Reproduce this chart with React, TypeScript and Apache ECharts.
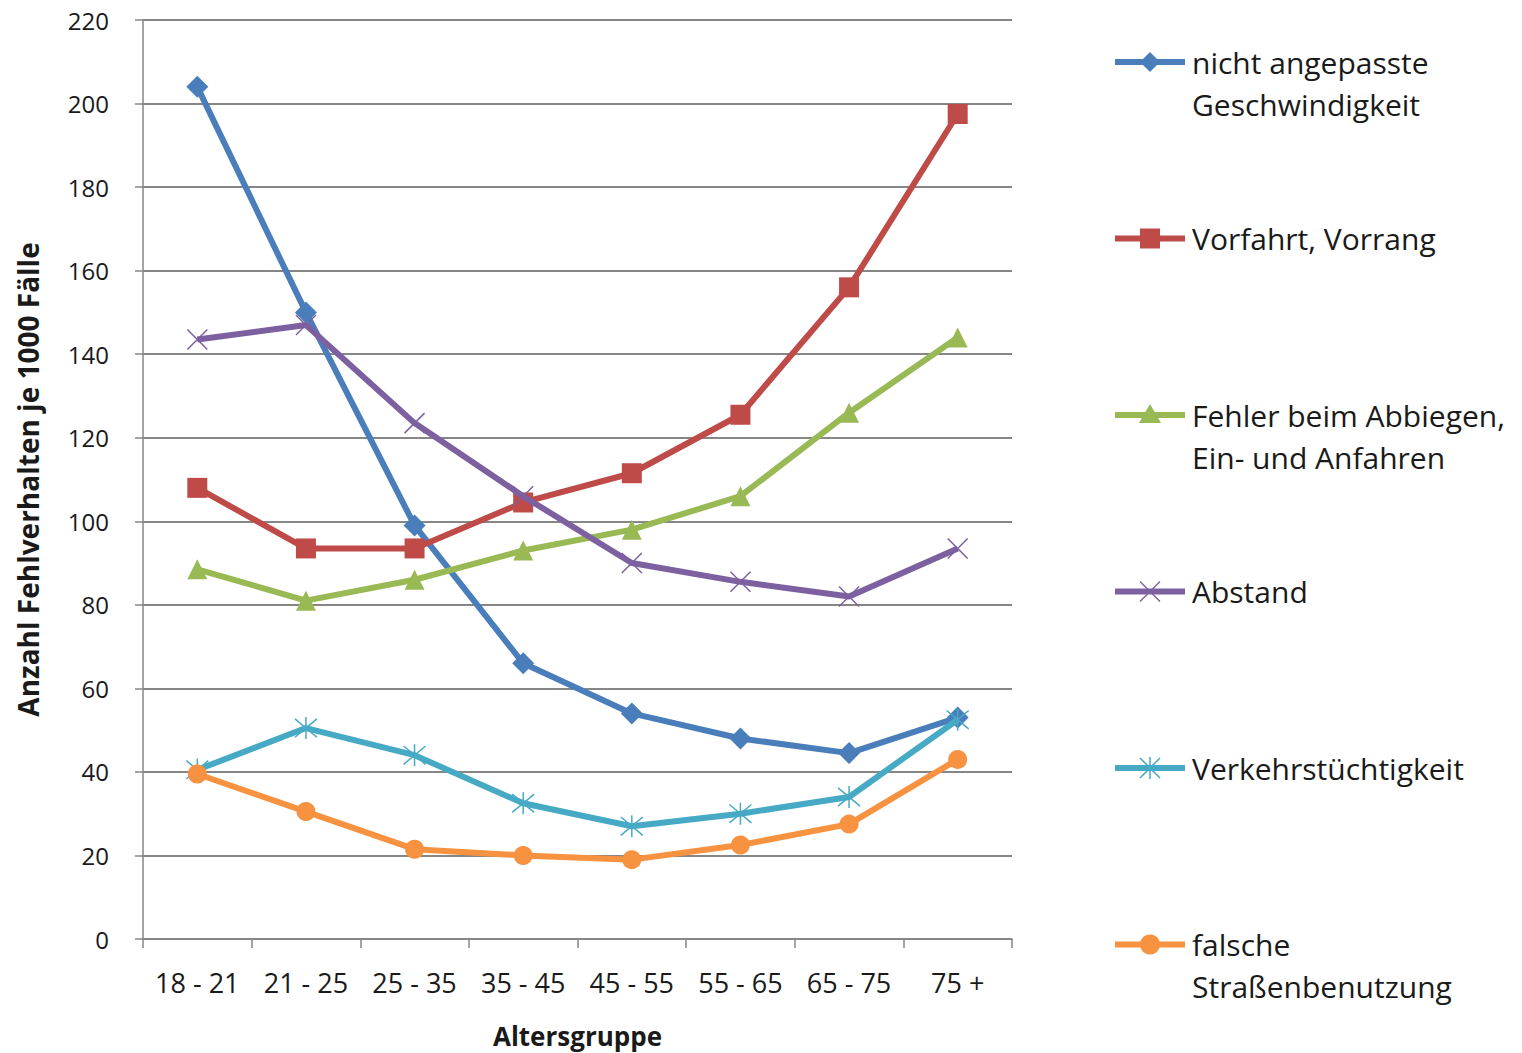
import React, { useEffect, useRef } from "react";
import * as echarts from "echarts";

// Altersgruppen und Fehlverhalten je 1000 Fälle
const categories = ["18 - 21", "21 - 25", "25 - 35", "35 - 45", "45 - 55", "55 - 65", "65 - 75", "75 +"];

const seriesNames = [
  "nicht angepasste\nGeschwindigkeit",
  "Vorfahrt, Vorrang",
  "Fehler beim Abbiegen,\nEin- und Anfahren",
  "Abstand",
  "Verkehrstüchtigkeit",
  "falsche\nStraßenbenutzung",
];

const geschwindigkeit = [204, 150, 99, 66, 54, 48, 44.5, 53];
const vorfahrt = [108, 93.5, 93.5, 104.5, 111.5, 125.5, 156, 197.5];
const abbiegen = [88.5, 81, 86, 93, 98, 106, 126, 144];
const abstand = [143.5, 147, 123.5, 106, 90, 85.5, 82, 93.5];
const verkehrstuechtigkeit = [40.5, 50.5, 44, 32.5, 27, 30, 34, 52.5];
const strassenbenutzung = [39.5, 30.5, 21.5, 20, 19, 22.5, 27.5, 43];

const yTicks = { min: 0, max: 220, interval: 20 };

const colors = ["#4A7EBB", "#BE4B48", "#98B954", "#7D60A0", "#46AAC5", "#F69240"];

const X_PATH = "path://M0,0L10,10M10,0L0,10";
const STAR_PATH = "path://M0,0L10,10M10,0L0,10M5,-1L5,11";

const FONT = "'Open Sans', 'Noto Sans', sans-serif";

export default function App() {
  const ref = useRef<HTMLDivElement>(null);

  useEffect(() => {
    if (!ref.current) return;
    const chart = echarts.init(ref.current, undefined, { renderer: "svg" });

    const values = [geschwindigkeit, vorfahrt, abbiegen, abstand, verkehrstuechtigkeit, strassenbenutzung];
    const symbols: any[] = ["diamond", "rect", "triangle", X_PATH, STAR_PATH, "circle"];
    const symbolSizes = [22, 20, 20, 20, 22, 19];

    const series = values.map((data, i) => {
      const stroked = i === 3 || i === 4;
      return {
        name: seriesNames[i],
        type: "line",
        data,
        symbol: symbols[i],
        symbolSize: symbolSizes[i],
        showSymbol: true,
        lineStyle: { color: colors[i], width: 6 },
        itemStyle: stroked
          ? { color: "rgba(0,0,0,0)", borderColor: colors[i], borderWidth: 1.5 }
          : { color: colors[i], borderWidth: 0 },
        z: 2 + i,
      };
    });

    // Legende rechts neben dem Diagramm
    const legendTop = 62;
    const legendStep = 176.5;
    const lx0 = 1115;
    const lx1 = 1185;
    const mx = 1150;
    const graphics: any[] = [];
    seriesNames.forEach((name, i) => {
      const y = legendTop + i * legendStep;
      const c = colors[i];
      graphics.push({
        type: "line",
        shape: { x1: lx0, y1: y, x2: lx1, y2: y },
        style: { stroke: c, lineWidth: 6 },
      });
      if (i === 0) {
        graphics.push({
          type: "polygon",
          shape: { points: [[mx, y - 10], [mx + 10, y], [mx, y + 10], [mx - 10, y]] },
          style: { fill: c },
        });
      } else if (i === 1) {
        graphics.push({ type: "rect", shape: { x: mx - 10, y: y - 10, width: 20, height: 20 }, style: { fill: c } });
      } else if (i === 2) {
        graphics.push({
          type: "polygon",
          shape: { points: [[mx, y - 11], [mx + 11, y + 8], [mx - 11, y + 8]] },
          style: { fill: c },
        });
      } else if (i === 3 || i === 4) {
        graphics.push({ type: "line", shape: { x1: mx - 10, y1: y - 10, x2: mx + 10, y2: y + 10 }, style: { stroke: c, lineWidth: 1.5 } });
        graphics.push({ type: "line", shape: { x1: mx + 10, y1: y - 10, x2: mx - 10, y2: y + 10 }, style: { stroke: c, lineWidth: 1.5 } });
        if (i === 4) {
          graphics.push({ type: "line", shape: { x1: mx, y1: y - 11, x2: mx, y2: y + 11 }, style: { stroke: c, lineWidth: 1.5 } });
        }
      } else {
        graphics.push({ type: "circle", shape: { cx: mx, cy: y, r: 10 }, style: { fill: c } });
      }
      graphics.push({
        type: "text",
        x: 1192,
        y: y - 21,
        style: {
          text: name,
          fill: "#1a1a1a",
          font: `30px ${FONT}`,
          lineHeight: 42,
          verticalAlign: "top",
          align: "left",
        },
      });
    });

    chart.setOption({
      animation: false,
      backgroundColor: "#ffffff",
      grid: {
        left: 143,
        right: 510,
        top: 20,
        bottom: 114,
        containLabel: false,
        outerBoundsMode: "none",
      },
      xAxis: {
        type: "category",
        data: categories,
        boundaryGap: true,
        name: "Altersgruppe",
        nameLocation: "middle",
        nameGap: 84,
        nameTextStyle: { fontFamily: FONT, fontSize: 26, fontWeight: "bold", color: "#1a1a1a" },
        axisLine: { lineStyle: { color: "#868686", width: 1.5 } },
        axisTick: { show: true, interval: 0, length: 9, lineStyle: { color: "#868686", width: 1.5 } },
        axisLabel: { interval: 0, hideOverlap: false, fontFamily: FONT, fontSize: 27, color: "#1a1a1a", margin: 30 },
        splitLine: { show: false },
      },
      yAxis: {
        type: "value",
        min: yTicks.min,
        max: yTicks.max,
        interval: yTicks.interval,
        name: "Anzahl Fehlverhalten je 1000 Fälle",
        nameLocation: "middle",
        nameGap: 101,
        nameRotate: 90,
        nameTextStyle: { fontFamily: FONT, fontSize: 28, fontWeight: "bold", color: "#1a1a1a" },
        axisLine: { show: true, lineStyle: { color: "#868686", width: 1.5 } },
        axisTick: { show: true, length: 8, lineStyle: { color: "#868686", width: 1.5 } },
        axisLabel: { fontFamily: FONT, fontSize: 24, color: "#1a1a1a", margin: 34 },
        splitLine: { show: true, lineStyle: { color: "#868686", width: 1.8 } },
      },
      series,
      graphic: graphics,
    });

    return () => chart.dispose();
  }, []);

  return (
    <div
      ref={ref}
      style={{ position: "absolute", left: 0, top: 0, width: 1522, height: 1053 }}
    />
  );
}
